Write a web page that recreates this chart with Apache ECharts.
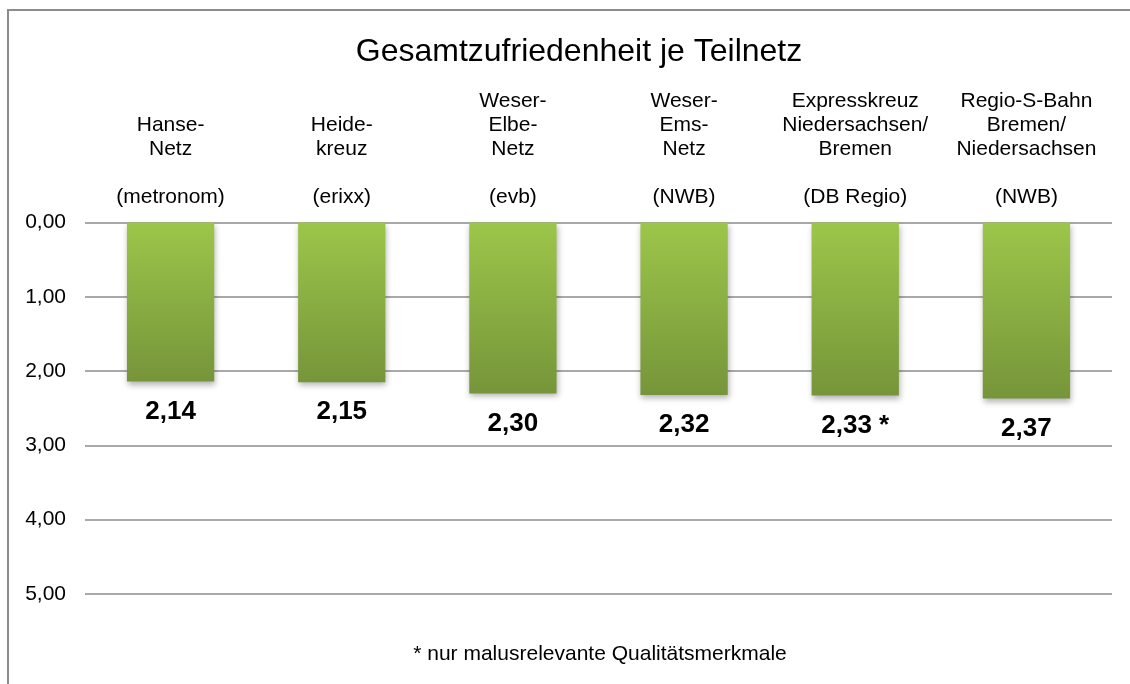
<!DOCTYPE html>
<html>
<head>
<meta charset="utf-8">
<script src="https://cdn.jsdelivr.net/npm/echarts@6/dist/echarts.min.js"></script>
<style>
  html, body { margin: 0; padding: 0; background: #fff; }
  #chart { width: 1130px; height: 684px; }
</style>
</head>
<body>
<div id="chart"></div>
<script>
// Teilnetze (Kategorien) und Betreiber
const networks = [
    'Hanse-\nNetz',
    'Heide-\nkreuz',
    'Weser-\nElbe-\nNetz',
    'Weser-\nEms-\nNetz',
    'Expresskreuz\nNiedersachsen/\nBremen',
    'Regio-S-Bahn\nBremen/\nNiedersachsen'
];
const operators = ['(metronom)', '(erixx)', '(evb)', '(NWB)', '(DB Regio)', '(NWB)'];
// Gesamtzufriedenheit (Schulnote)
const scores = [2.14, 2.15, 2.30, 2.32, 2.33, 2.37];
const notes = ['', '', '', '', ' *', ''];
const yTicks = [0, 1, 2, 3, 4, 5];

const FONT = "'Liberation Sans', Arial, sans-serif";
const fmt = v => v.toFixed(2).replace('.', ',');

const chart = echarts.init(document.getElementById('chart'));

const option = {
    backgroundColor: '#fff',
    animation: false,
    title: [
        {
            text: 'Gesamtzufriedenheit je Teilnetz',
            left: 574,
            top: 31,
            textAlign: 'center',
            textStyle: { color: '#000', fontSize: 32, fontWeight: 'normal', fontFamily: FONT }
        },
        {
            text: '* nur malusrelevante Qualitätsmerkmale',
            left: 595,
            top: 639,
            textAlign: 'center',
            textStyle: { color: '#000', fontSize: 21, fontWeight: 'normal', fontFamily: FONT }
        }
    ],
    graphic: [
        {
            type: 'rect',
            shape: { x: 8, y: 10, width: 1140, height: 700 },
            style: { fill: 'none', stroke: '#8c8c8c', lineWidth: 2 },
            silent: true
        }
    ],
    grid: { left: 85, right: 18, top: 222.5, height: 371.5 },
    xAxis: {
        type: 'category',
        position: 'top',
        data: networks.map((n, i) => n + '\n\n' + operators[i]),
        axisLine: { show: false },
        axisTick: { show: false },
        axisLabel: {
            interval: 0,
            margin: 13,
            color: '#000',
            fontSize: 21,
            lineHeight: 24,
            fontFamily: FONT
        }
    },
    yAxis: {
        type: 'value',
        inverse: true,
        min: yTicks[0],
        max: yTicks[yTicks.length - 1],
        interval: 1,
        axisLine: { show: false },
        axisTick: { show: false },
        axisLabel: {
            margin: 19,
            color: '#000',
            fontSize: 21,
            fontFamily: FONT,
            formatter: v => fmt(v)
        },
        splitLine: { lineStyle: { color: '#8c8c8c', width: 1.5 } }
    },
    series: [
        {
            type: 'bar',
            data: scores,
            barWidth: '51%',
            itemStyle: {
                color: new echarts.graphic.LinearGradient(0, 0, 0, 1, [
                    { offset: 0, color: '#9cc64a' },
                    { offset: 1, color: '#76953a' }
                ]),
                shadowColor: 'rgba(0,0,0,0.3)',
                shadowBlur: 6,
                shadowOffsetX: 1,
                shadowOffsetY: 3
            },
            label: {
                show: true,
                position: 'bottom',
                distance: 17,
                color: '#000',
                fontSize: 26,
                fontWeight: 'bold',
                fontFamily: FONT,
                formatter: p => fmt(p.value) + notes[p.dataIndex]
            }
        }
    ]
};
chart.setOption(option);
</script>
</body>
</html>
